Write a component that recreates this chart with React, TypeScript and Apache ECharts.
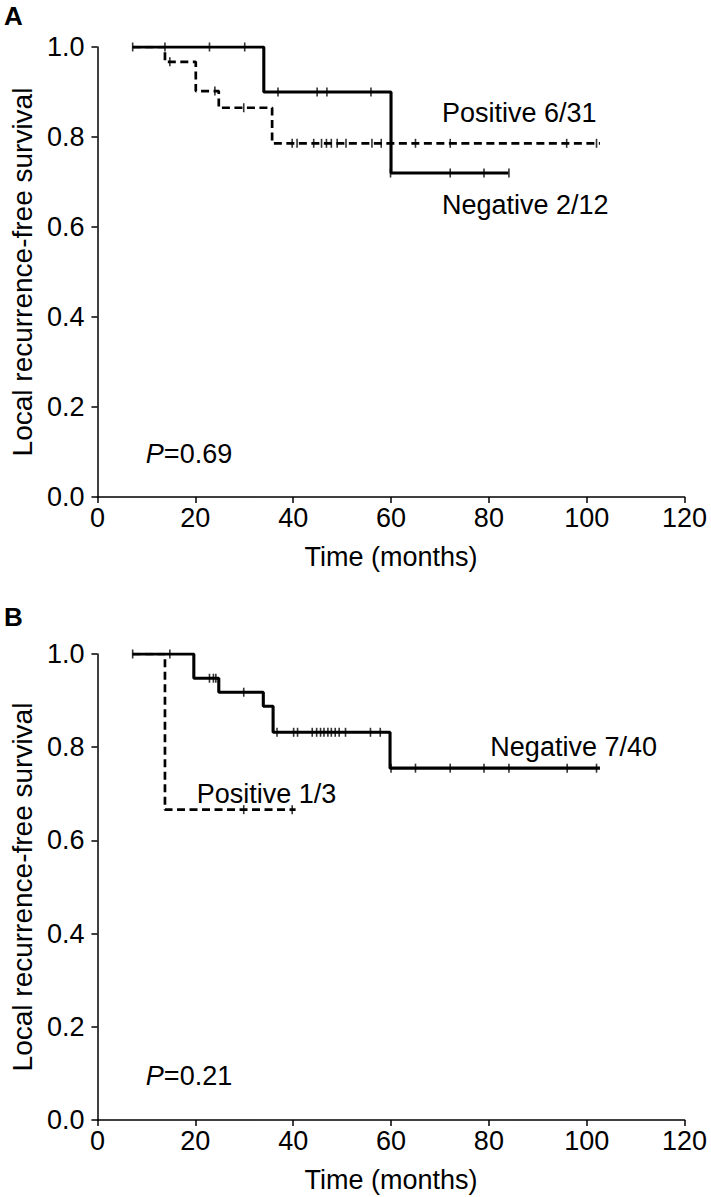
import React, { useEffect, useRef } from "react";
import * as echarts from "echarts";

// ---------- axes ----------
const X_MIN = 0;
const X_MAX = 120;
const X_STEP = 20;
const Y_MIN = 0;
const Y_MAX = 1;
const Y_STEP = 0.2;

// ---------- Panel A ----------
const A_NEG_TIME = [7.2, 34, 60, 84];
const A_NEG_SURV = [1, 0.9, 0.72, 0.72];
const A_NEG_CENSOR_TIME = [7.2, 13.8, 22.9, 30.1, 36.9, 44.9, 46.9, 55.9, 59.9, 72.1, 79, 84.1];
const A_NEG_CENSOR_SURV = [1, 1, 1, 1, 0.9, 0.9, 0.9, 0.9, 0.72, 0.72, 0.72, 0.72];

const A_POS_TIME = [7.2, 13.8, 20.1, 24.8, 35.7, 102.7];
const A_POS_SURV = [1, 0.967, 0.902, 0.865, 0.786, 0.786];
const A_POS_CENSOR_TIME = [14.8, 24.0, 29.9, 39.8, 40.8, 44.2, 45.8, 46.8, 47.8, 49.0, 50.8, 56.1, 58.0, 65, 72.1, 95.9, 102];
const A_POS_CENSOR_SURV = [0.967, 0.902, 0.865, 0.786, 0.786, 0.786, 0.786, 0.786, 0.786, 0.786, 0.786, 0.786, 0.786, 0.786, 0.786, 0.786, 0.786];

// ---------- Panel B ----------
const B_NEG_TIME = [7.2, 19.7, 24.8, 33.9, 35.9, 59.8, 102.7];
const B_NEG_SURV = [1, 0.948, 0.918, 0.888, 0.832, 0.755, 0.755];
const B_NEG_CENSOR_TIME = [7.2, 14.8, 22.9, 23.7, 24.2, 29.9, 36.7, 40.1, 40.9, 43.9, 44.8, 45.6, 46.3, 47.1, 47.8, 48.6, 49.4, 50.7, 55.8, 57.8, 60, 65, 72.1, 79, 84.1, 96, 102];
const B_NEG_CENSOR_SURV = [1, 1, 0.948, 0.948, 0.948, 0.918, 0.832, 0.832, 0.832, 0.832, 0.832, 0.832, 0.832, 0.832, 0.832, 0.832, 0.832, 0.832, 0.832, 0.832, 0.755, 0.755, 0.755, 0.755, 0.755, 0.755, 0.755];

const B_POS_TIME = [7.2, 13.8, 40.5];
const B_POS_SURV = [1, 0.666, 0.666];
const B_POS_CENSOR_TIME = [29.9, 39.8];
const B_POS_CENSOR_SURV = [0.666, 0.666];

// ---------- annotation texts ----------
const PANEL_LABELS = ["A", "B"];
const A_TEXTS = ["Positive 6/31", "Negative 2/12", "{i|P}=0.69"];
const B_TEXTS = ["Negative 7/40", "Positive 1/3", "{i|P}=0.21"];
// anchor points (time, survival) for the annotations, left-middle
const A_TEXT_AT = [[70.4, 0.854], [70.4, 0.65], [9.9, 0.095]];
const B_TEXT_AT = [[80.3, 0.8], [20.3, 0.7], [9.9, 0.095]];

const FONT = "Liberation Sans, Arial, Helvetica, sans-serif";
const FS = 27;
const FS_YNAME = 28;

const zip = (a: number[], b: number[]) => a.map((v, i) => [v, b[i]]);

const GRID_LEFT = 96.6;
const GRID_W = 588;
const GRIDS = [
  { top: 47, height: 450 },
  { top: 654, height: 466 },
];
const PANEL_LABEL_Y = [16, 617];

function axisPair(i: number) {
  const common = {
    type: "value",
    gridIndex: i,
    axisLine: { show: true, onZero: false, lineStyle: { color: "#000", width: 1.5 } },
    axisTick: { show: true, length: 6, lineStyle: { color: "#000", width: 1.5 } },
    splitLine: { show: false },
  };
  const x = {
    ...common,
    min: X_MIN,
    max: X_MAX,
    interval: X_STEP,
    axisLabel: { color: "#000", fontSize: FS, fontFamily: FONT, margin: 7 },
    name: "Time (months)",
    nameLocation: "middle",
    nameGap: 46,
    nameTextStyle: { color: "#000", fontSize: FS, fontFamily: FONT },
  };
  const y = {
    ...common,
    min: Y_MIN,
    max: Y_MAX,
    interval: Y_STEP,
    axisLabel: {
      color: "#000",
      fontSize: FS,
      fontFamily: FONT,
      margin: 13,
      formatter: (v: number) => v.toFixed(1),
    },
    name: "Local recurrence-free survival",
    nameLocation: "middle",
    nameGap: 61,
    nameTextStyle: { color: "#000", fontSize: FS_YNAME, fontFamily: FONT },
  };
  return { x, y };
}

function curve(i: number, t: number[], s: number[], dashed: boolean) {
  return {
    type: "line",
    xAxisIndex: i,
    yAxisIndex: i,
    step: "end",
    symbol: "none",
    data: zip(t, s),
    z: dashed ? 2 : 3,
    lineStyle: dashed
      ? { color: "#000", width: 2.7, type: [8, 4.5] }
      : { color: "#000", width: 3.1 },
    silent: true,
  };
}

function censor(i: number, t: number[], s: number[]) {
  return {
    type: "scatter",
    xAxisIndex: i,
    yAxisIndex: i,
    symbol: "rect",
    symbolSize: [1.6, 9],
    itemStyle: { color: "#000" },
    data: zip(t, s),
    z: 4,
    silent: true,
  };
}

export default function App() {
  const ref = useRef<HTMLDivElement>(null);
  useEffect(() => {
    if (!ref.current) return;
    const chart = echarts.init(ref.current, undefined, { renderer: "svg" });
    const a = axisPair(0);
    const b = axisPair(1);
    chart.setOption({
      animation: false,
      backgroundColor: "#fff",
      grid: GRIDS.map((g) => ({ left: GRID_LEFT, top: g.top, width: GRID_W, height: g.height })),
      xAxis: [a.x, b.x],
      yAxis: [a.y, b.y],
      series: [
        curve(0, A_POS_TIME, A_POS_SURV, true),
        curve(0, A_NEG_TIME, A_NEG_SURV, false),
        censor(0, A_POS_CENSOR_TIME, A_POS_CENSOR_SURV),
        censor(0, A_NEG_CENSOR_TIME, A_NEG_CENSOR_SURV),
        curve(1, B_POS_TIME, B_POS_SURV, true),
        curve(1, B_NEG_TIME, B_NEG_SURV, false),
        censor(1, B_POS_CENSOR_TIME, B_POS_CENSOR_SURV),
        censor(1, B_NEG_CENSOR_TIME, B_NEG_CENSOR_SURV),
      ],
    });
    const texts: any[] = [];
    [A_TEXTS, B_TEXTS].forEach((arr, gi) => {
      const at = gi === 0 ? A_TEXT_AT : B_TEXT_AT;
      arr.forEach((txt, k) => {
        const p = chart.convertToPixel({ gridIndex: gi }, at[k]) as number[];
        texts.push({
          type: "text",
          x: p[0],
          y: p[1],
          style: {
            text: txt,
            fill: "#000",
            fontSize: FS,
            fontFamily: FONT,
            verticalAlign: "middle",
            align: "left",
            rich: { i: { fontStyle: "italic", fontSize: FS, fontFamily: FONT, fill: "#000" } },
          },
        });
      });
    });
    PANEL_LABELS.forEach((lab, gi) => {
      texts.push({
        type: "text",
        x: 4,
        y: PANEL_LABEL_Y[gi],
        style: {
          text: lab,
          fill: "#000",
          fontSize: 26,
          fontWeight: "bold",
          fontFamily: FONT,
          verticalAlign: "middle",
          align: "left",
        },
      });
    });
    chart.setOption({ graphic: texts });
    return () => chart.dispose();
  }, []);
  return (
    <div
      ref={ref}
      style={{ position: "absolute", left: 0, top: 0, width: 711, height: 1197, background: "#fff" }}
    />
  );
}
